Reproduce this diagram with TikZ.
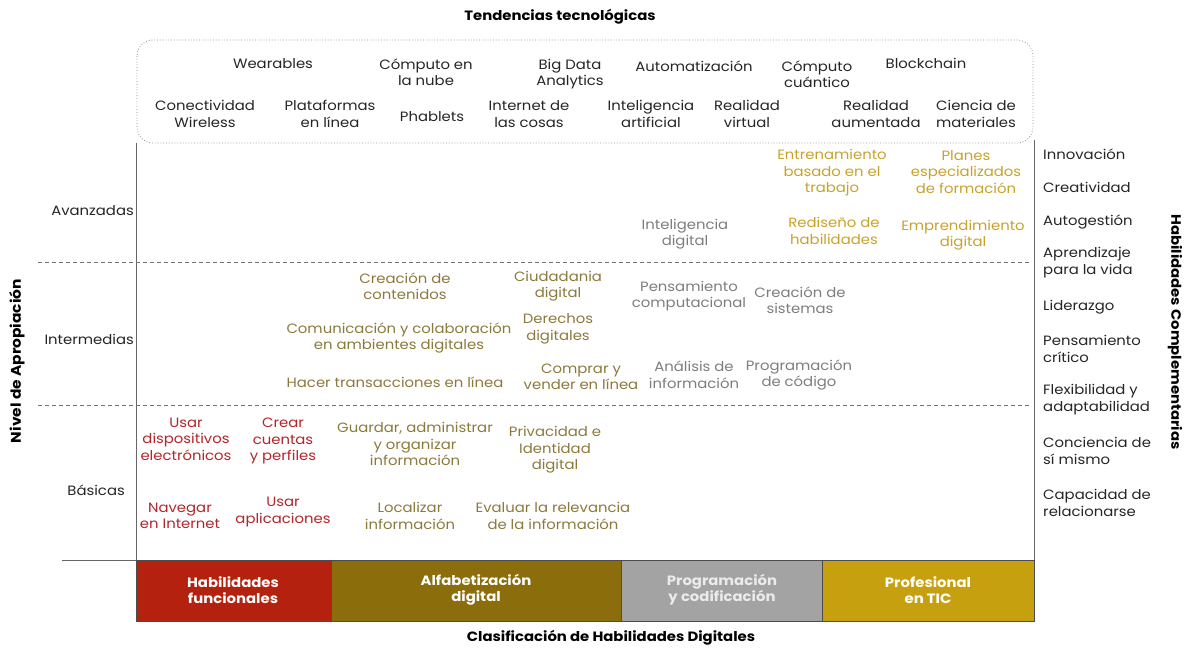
\documentclass[tikz,border=0pt]{standalone}
\usepackage{fontspec}
\setmainfont{Poppins}[FakeStretch=1.1]
\begin{document}
\begin{tikzpicture}[x=1pt,y=-1pt,
  txt/.style={font=\fontsize{13.5}{16.5}\selectfont, align=center, inner sep=0pt, text=black!85},
  lbl/.style={font=\fontsize{13.5}{17}\selectfont, align=left, anchor=west, inner sep=0pt, text=black!85},
  ttl/.style={font=\bfseries\fontsize{13.5}{15}\selectfont, inner sep=0pt, text=black},
  red/.style={txt, text=cred},
  olv/.style={txt, text=colv},
  gry/.style={txt, text=cgry},
  gld/.style={txt, text=cgld},
  bar/.style={draw=black!70, line width=0.6pt},
  bartxt/.style={font=\bfseries\fontsize{13.5}{16}\selectfont, align=center, inner sep=0pt, text=white},
  dashline/.style={draw=black!55, dash pattern=on 4pt off 3pt, line width=0.7pt}
]
\definecolor{cred}{HTML}{B3262A}
\definecolor{colv}{HTML}{8C7A3C}
\definecolor{cgry}{HTML}{7E7E7E}
\definecolor{cgld}{HTML}{C9A22C}
\definecolor{bred}{HTML}{B4210F}
\definecolor{bolv}{HTML}{8C6D0B}
\definecolor{bgry}{HTML}{A3A3A3}
\definecolor{bgld}{HTML}{C7A00F}
\useasboundingbox (0,0) rectangle (1185,649);
\fill[white] (0,0) rectangle (1185,649);

% title
\node[ttl] (t1) at (560,17) {Tendencias tecnológicas};
% trend box
\draw[black!45, dotted, line width=0.8pt, rounded corners=16pt] (137,40) rectangle (1033,143);
\node[txt] (w) at (273,64) {Wearables};
\node[txt] (cn) at (426,72) {Cómputo en\\la nube};
\node[txt] (bd) at (570,74) {Big Data\\Analytics};
\node[txt] (au) at (694,66) {Automatización};
\node[txt] (cc) at (817,74) {Cómputo\\cuántico};
\node[txt] (bc) at (926,63) {Blockchain};
\node[txt] (cw) at (205,114) {Conectividad\\Wireless};
\node[txt] (pl) at (330,114) {Plataformas\\en línea};
\node[txt] (ph) at (432,117) {Phablets};
\node[txt] (ic) at (529,114) {Internet de\\las cosas};
\node[txt] (ia) at (651,114) {Inteligencia\\artificial};
\node[txt] (rv) at (747,114) {Realidad\\virtual};
\node[txt] (ra) at (876,114) {Realidad\\aumentada};
\node[txt] (cm) at (976,114) {Ciencia de\\materiales};

% frame
\draw[black!60, line width=0.7pt] (136,143) -- (136,560);
\draw[black!60, line width=0.7pt] (1034,140) -- (1034,560);
\draw[dashline] (38,262) -- (1030,262);
\draw[dashline] (38,405) -- (1030,405);
\draw[black!60, line width=0.8pt] (62,560) -- (1034,560);

% left labels
\node[txt, anchor=east] (av) at (134,211) {Avanzadas};
\node[txt, anchor=east] (in) at (134,339) {Intermedias};
\node[txt, anchor=east] (ba) at (125,490) {Básicas};
\node[ttl, rotate=90, font=\bfseries\fontsize{14}{15}\selectfont] (na) at (17,361) {Nivel de Apropiación};
\node[ttl, rotate=-90] (hc) at (1175,332) {Habilidades Complementarias};

% right list
\node[lbl] (r1) at (1043,154) {Innovación};
\node[lbl] (r2) at (1043,187) {Creatividad};
\node[lbl] (r3) at (1043,222) {Autogestión};
\node[lbl] (r4) at (1043,263) {Aprendizaje\\para la vida};
\node[lbl] (r5) at (1043,307) {Liderazgo};
\node[lbl] (r6) at (1043,349) {Pensamiento\\crítico};
\node[lbl] (r7) at (1043,400) {Flexibilidad y\\adaptabilidad};
\node[lbl] (r8) at (1043,451) {Conciencia de\\sí mismo};
\node[lbl] (r9) at (1043,503) {Capacidad de\\relacionarse};

% advanced
\node[gld] (a1) at (832,173) {Entrenamiento\\basado en el\\trabajo};
\node[gld] (a2) at (966,172) {Planes\\especializados\\de formación};
\node[gry] (a3) at (685,234) {Inteligencia\\digital};
\node[gld] (a4) at (834,231) {Rediseño de\\habilidades};
\node[gld] (a5) at (963,235) {Emprendimiento\\digital};

% intermediate
\node[olv] (i1) at (405,286) {Creación de\\contenidos};
\node[olv] (i2) at (558,286) {Ciudadania\\digital};
\node[gry] (i3) at (689,296) {Pensamiento\\computacional};
\node[gry] (i4) at (800,300) {Creación de\\sistemas};
\node[olv] (i5) at (399,338) {Comunicación y colaboración\\en ambientes digitales};
\node[olv] (i6) at (558,329) {Derechos\\digitales};
\node[olv] (i7) at (395,382) {Hacer transacciones en línea};
\node[olv] (i8) at (581,377) {Comprar y\\vender en línea};
\node[gry] (i9) at (694,375) {Análisis de\\información};
\node[gry] (i10) at (799,375) {Programación\\de código};

% basic
\node[red] (b1) at (186,439) {Usar\\dispositivos\\electrónicos};
\node[red] (b2) at (283,441) {Crear\\cuentas\\y perfiles};
\node[olv] (b3) at (415,444) {Guardar, administrar\\y organizar\\información};
\node[olv] (b4) at (555,450) {Privacidad e\\Identidad\\digital};
\node[red] (b5) at (180,516) {Navegar\\en Internet};
\node[red] (b6) at (283,512) {Usar\\aplicaciones};
\node[olv] (b7) at (410,516) {Localizar\\información};
\node[olv] (b8) at (553,516) {Evaluar la relevancia\\de la información};

% bars
\fill[bred] (136,560) rectangle (331,621);
\fill[bolv] (331,560) rectangle (621,621);
\fill[bgry] (621,560) rectangle (822,621);
\fill[bgld] (822,560) rectangle (1034,621);
\draw[bar] (136,560) rectangle (1034,621);
\draw[bar] (331,560) -- (331,621);
\draw[bar] (621,560) -- (621,621);
\draw[bar] (822,560) -- (822,621);
\node[bartxt] (c1) at (233,590) {Habilidades\\funcionales};
\node[bartxt] (c2) at (476,590) {Alfabetización\\digital};
\node[bartxt, text=black!8] (c3) at (722,590) {Programación\\y codificación};
\node[bartxt] (c4) at (928,590) {Profesional\\en TIC};
\node[ttl] (t2) at (611,638) {Clasificación de Habilidades Digitales};
\end{tikzpicture}
\end{document}
